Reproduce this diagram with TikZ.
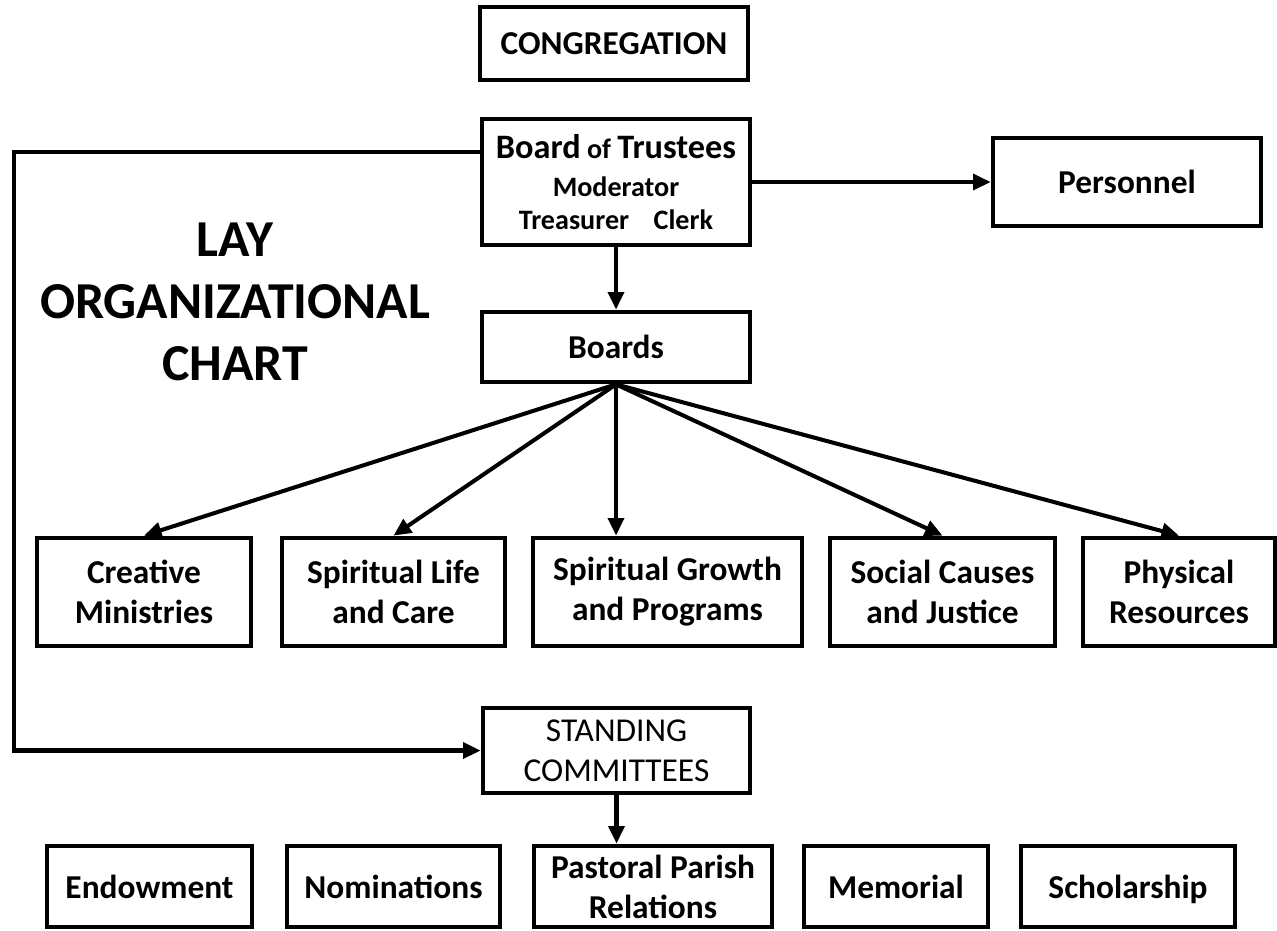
\documentclass[tikz,border=0pt]{standalone}
\usepackage{fontspec}
\setmainfont{Carlito}
\usetikzlibrary{arrows.meta}

\tikzset{
  orgbox/.style={draw,line width=2.7pt,align=center,inner sep=0pt,font=\bfseries\fontsize{19}{22.8}\selectfont},
  link/.style={line width=2.3pt,-{Triangle[length=10pt,width=9pt]}},
}

\begin{document}
\begin{tikzpicture}[x=0.02cm,y=-0.02cm]
\useasboundingbox (0,0) rectangle (1277,930);
\node[font=\bfseries\fontsize{29.5}{35.3}\selectfont,align=center] (title) at (235,302) {LAY\\ORGANIZATIONAL\\CHART};
\node[orgbox,minimum width=5.36cm,minimum height=1.46cm] (cong) at (614,43.5) {CONGREGATION};
\node[orgbox,minimum width=5.36cm,minimum height=2.52cm,font=\bfseries\fontsize{16}{18.8}\selectfont] (trustees) at (616,182)
  {{\fontsize{19.5}{20}\selectfont Board} of {\fontsize{19.5}{20}\selectfont Trustees}\\[2.8pt] Moderator\\ Treasurer\hspace{14pt}Clerk};
\node[orgbox,minimum width=5.36cm,minimum height=1.76cm] (personnel) at (1127,182) {Personnel};
\node[orgbox,minimum width=5.36cm,minimum height=1.40cm] (boards) at (616,347) {Boards};
\node[orgbox,minimum width=4.28cm,minimum height=2.16cm] (creative) at (144,592) {Creative\\Ministries};
\node[orgbox,minimum width=4.46cm,minimum height=2.16cm] (spirlife) at (393.5,592) {Spiritual Life\\and Care};
\node[orgbox,minimum width=5.38cm,minimum height=2.16cm] (growth) at (667.5,592) {Spiritual Growth\\and Programs};
\node[orgbox,minimum width=4.50cm,minimum height=2.16cm] (social) at (942.5,592) {Social Causes\\and Justice};
\node[orgbox,minimum width=3.84cm,minimum height=2.16cm] (physical) at (1179,592) {Physical\\Resources};
\node[orgbox,minimum width=5.34cm,minimum height=1.70cm,font=\fontsize{19}{22.8}\selectfont] (standing) at (616.5,750.5) {STANDING\\COMMITTEES};
\node[orgbox,minimum width=4.10cm,minimum height=1.62cm] (endow) at (149.5,886.5) {Endowment};
\node[orgbox,minimum width=4.26cm,minimum height=1.62cm] (nomin) at (393.5,886.5) {Nominations};
\node[orgbox,minimum width=4.76cm,minimum height=1.62cm] (pastoral) at (653,886.5) {Pastoral Parish\\Relations};
\node[orgbox,minimum width=3.68cm,minimum height=1.62cm] (memorial) at (896,886.5) {Memorial};
\node[orgbox,minimum width=4.28cm,minimum height=1.62cm,text depth=0pt] (scholar) at (1128,886.5) {Scholarship};
\coordinate (bend) at (14,750.5);
\draw[link] ([yshift=0.6cm]trustees.west) -| (bend) -- (standing.west);
\draw[link] (trustees.east) -- (personnel.west);
\draw[link] (trustees.south) -- (boards.north);
\draw[link] (boards.south) -- (creative.north);
\draw[link] (boards.south) -- (spirlife.north);
\draw[link] (boards.south) -- (boards.south |- growth.north);
\draw[link] (boards.south) -- (social.north);
\draw[link] (boards.south) -- (physical.north);
\draw[link] (standing.south) -- (standing.south |- pastoral.north);
\end{tikzpicture}
\end{document}
